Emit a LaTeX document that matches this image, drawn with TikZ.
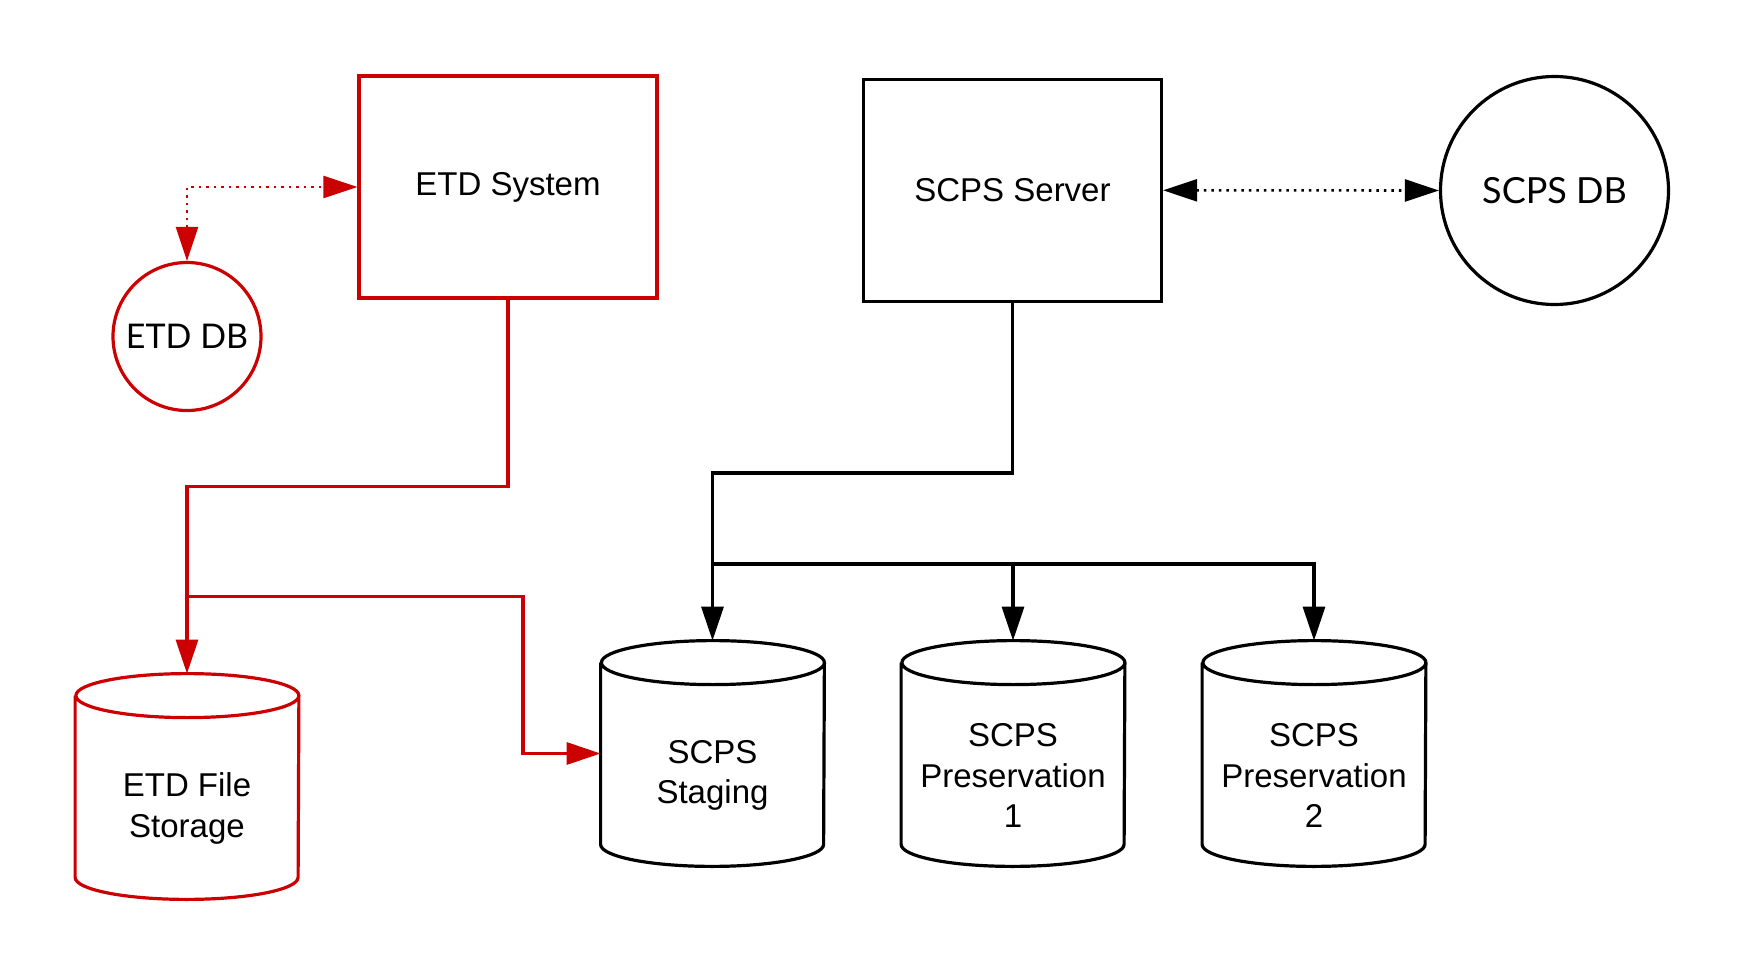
\documentclass[tikz,border=0pt]{standalone}
\usepackage{fontspec}
\setmainfont{Liberation Sans}
\newfontfamily\dbfont{Lato}
\usetikzlibrary{arrows.meta}
\definecolor{r1}{HTML}{CC0000}

\tikzset{
  box/.style={draw,line width=1.6pt,minimum width=149pt,minimum height=111pt},
  dbc/.style={draw,circle,line width=1.6pt,inner sep=0pt},
  store/.style={minimum width=111.5pt,minimum height=90.5pt,inner sep=0pt,align=center},
  arr/.style={line width=1.6pt,-{Triangle[length=17pt,width=11pt]}},
  dotline/.style={line width=1.3pt,dash pattern=on 1.2pt off 2.55pt,{Triangle[length=17pt,width=11pt]}-{Triangle[length=17pt,width=11pt]}},
}

\begin{document}
\begin{tikzpicture}[x=0.5pt,y=-0.5pt,font=\fontsize{16.5}{20.25}\selectfont]
	\useasboundingbox (0,0) rectangle (1742,975);
	% boxes and databases
	\node[box,draw=r1] (etds) at (508,187) {ETD System};
	\node[box] (srv) at (1012.5,190.3) {SCPS Server};
	\node[dbc,draw=r1,minimum size=74pt,font=\dbfont\fontsize{17}{20}\selectfont] (etdb) at (187,336.5) {ETD DB};
	\node[dbc,minimum size=114pt,font=\dbfont\fontsize{18}{21}\selectfont] (scdb) at (1554.5,190.5) {SCPS DB};
	% storage: the node is the body under the top cap
	\node[store] (etdfs) at (187,808.5) {ETD File\\Storage};
	\node[store] (stg) at (712.5,775.5) {SCPS\\Staging};
	\node[store] (pr1) at (1013,775.5) {SCPS\\Preservation\\1};
	\node[store] (pr2) at (1314,775.5) {SCPS\\Preservation\\2};
	\foreach \n/\c in {etdfs/r1,stg/black,pr1/black,pr2/black}
		\draw[line width=1.6pt,draw=\c] ([yshift=11pt]\n.north west) -- ([yshift=11pt]\n.south west)
			arc[start angle=180,end angle=360,x radius=55.75pt,y radius=11pt] -- ([yshift=11pt]\n.north east)
			arc[start angle=0,end angle=180,x radius=55.75pt,y radius=11pt]
			arc[start angle=180,end angle=360,x radius=55.75pt,y radius=11pt];

	\coordinate (rb) at (187,596.7);
	\coordinate (split) at (712.5,564);
	\draw[r1,arr] (etds.south) -- ++(0,187) -| ([yshift=22pt]etdfs.north);
	\draw[r1,arr] (rb) -- ++(336,0) |- ([yshift=11pt]stg.west);
	\draw[arr] (srv.south) -- ++(0,170) -| ([yshift=22pt]stg.north);
	\draw[arr] (split) -| ([yshift=22pt]pr1.north);
	\draw[arr] (split) -| ([yshift=22pt]pr2.north);
	\draw[r1,dotline] (etdb.north) |- (etds.west);
	\draw[dotline] (srv.east) -- (scdb.west);
\end{tikzpicture}
\end{document}
